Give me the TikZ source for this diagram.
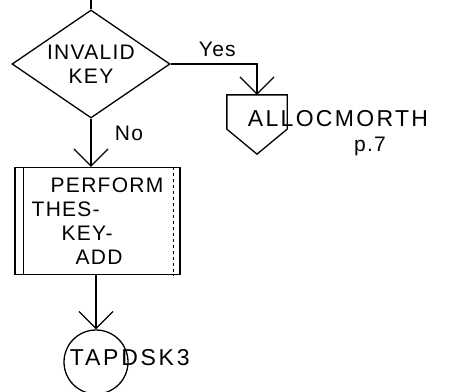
\documentclass[tikz,border=0pt]{standalone}
\usepackage{fontspec}
\setmainfont{Liberation Sans}
\newfontfamily\handfont[LetterSpace=6]{Liberation Sans}
\usetikzlibrary{arrows.meta,shapes.geometric,positioning,calc}

\tikzset{
  hand/.style={font=\handfont\fontsize{21}{24}\selectfont},
  decision/.style={diamond, draw, aspect=1.46, minimum width=158pt, minimum height=108pt, inner sep=-6pt, align=center, hand},
  predef/.style={rectangle, draw, minimum width=165pt, minimum height=107pt, align=left, inner sep=0pt, hand},
  endcirc/.style={circle, draw, minimum size=64pt, inner sep=0pt},
  flow/.style={-{Straight Barb[length=17pt,width=34pt,line width=1.3pt]}}
}

\begin{document}
\begin{tikzpicture}[x=1pt,y=-1pt,line width=1.3pt]
\useasboundingbox (0,0) rectangle (462,391);
\node[decision] (key) at (91,64) {INVALID\\KEY};
\coordinate (top) at (key.north |- 0,0);
\draw (top) -- (key.north);

% off-page connector
\node[minimum width=59pt, minimum height=33pt, inner sep=0pt] (offp) at (257,112) {};
\draw (offp.south west) -- (offp.north west) -- (offp.north east) -- (offp.south east) -- ($(offp.south)+(0,25)$) -- cycle;
\node[hand, anchor=west, font=\handfont\fontsize{23}{26}\addfontfeature{LetterSpace=10}] (offlbl) at (244,119) {ALLOCMORTH};
\node[hand] (offpg) at (370,146) {p.7};

\node[predef] (perf) at (97.5,221) {\hspace*{19pt}PERFORM\\THES-\\\hspace*{30pt}KEY-\\\hspace*{44pt}ADD};
\draw ($(perf.north west)+(9,0)$) -- ($(perf.south west)+(9,0)$);
\draw[dashed] ($(perf.north east)+(-7,0)$) -- ($(perf.south east)+(-7,0)$);

\node[endcirc] (tap) at (96,362) {};
\node[hand, anchor=west, font=\handfont\fontsize{23}{26}\addfontfeature{LetterSpace=12}] (taplbl) at (66,358) {TAPDSK3};

\draw[flow] (key.east) -| node[pos=0.27, above=3pt, hand] {Yes} (offp.north);
\draw[flow] (key.south) -- node[pos=0.3, right=20pt, hand] {No} (key.south |- perf.north);
\draw[flow] (perf.south -| tap.north) -- (tap.north);
\end{tikzpicture}
\end{document}
